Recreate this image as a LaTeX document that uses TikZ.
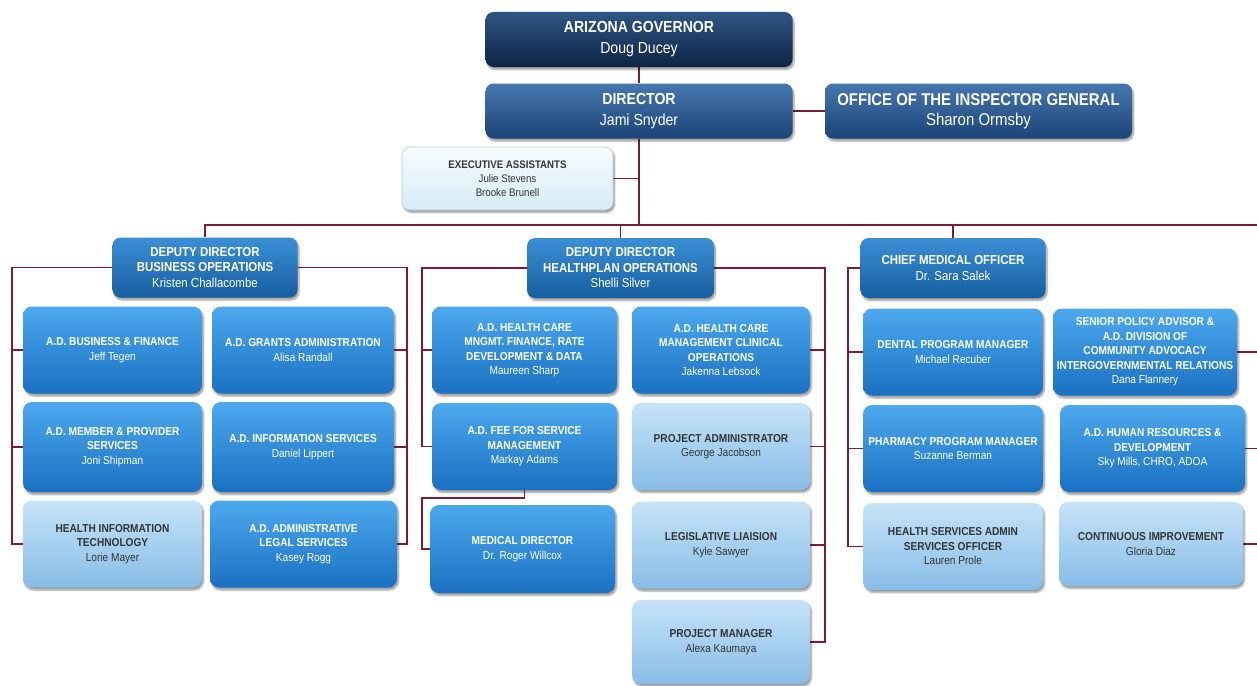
\documentclass[tikz,border=0pt]{standalone}
\usepackage{fontspec}
\newfontfamily\orgfont[FakeStretch=0.88]{Liberation Sans}
\usetikzlibrary{shadows.blur,backgrounds}
\definecolor{linkred}{HTML}{7B1C34}
\definecolor{govtop}{HTML}{2E5585}
\definecolor{govbot}{HTML}{0E2444}
\definecolor{dirtop}{HTML}{4676AF}
\definecolor{dirbot}{HTML}{1C4477}
\definecolor{deptop}{HTML}{3C8FD6}
\definecolor{depbot}{HTML}{165E9F}
\definecolor{adtop}{HTML}{4DA9EE}
\definecolor{adbot}{HTML}{1A70C2}
\definecolor{lttop}{HTML}{C6E3F8}
\definecolor{ltbot}{HTML}{88BDE7}
\definecolor{extop}{HTML}{F7FCFE}
\definecolor{exbot}{HTML}{D6EBF6}
\definecolor{darktext}{HTML}{343434}
\tikzset{
	box/.style={
			rounded corners=8pt, align=center, inner sep=0pt,
			blur shadow={shadow xshift=1.5pt, shadow yshift=-2.5pt,
					shadow opacity=40, shadow blur steps=6}
		},
	topbox/.style={box, text=white, minimum width=307pt, minimum height=55pt,
			font={\orgfont\fontsize{16}{21}\selectfont}},
	govbox/.style={topbox, top color=govtop, bottom color=govbot},
	dirbox/.style={topbox, top color=dirtop, bottom color=dirbot},
	execbox/.style={box, top color=extop, bottom color=exbot, draw=exbot!70!gray,
			line width=0.6pt, text=darktext, minimum width=211pt, minimum height=63pt,
			font={\orgfont\fontsize{11}{14}\selectfont}},
	depbox/.style={box, top color=deptop, bottom color=depbot, text=white,
			minimum width=185pt, minimum height=60pt,
			font={\orgfont\fontsize{13}{15.5}\selectfont}},
	adbox/.style={box, rounded corners=9pt, top color=adtop, bottom color=adbot,
			text=white, minimum width=182pt, minimum height=87pt,
			font={\orgfont\fontsize{11.5}{14.5}\selectfont}},
	litebox/.style={adbox, top color=lttop, bottom color=ltbot, text=darktext},
	link/.style={draw=linkred, line width=1.8pt}
}

\begin{document}
\begin{tikzpicture}[x=1pt,y=-1pt]
	\useasboundingbox (0,0) rectangle (1257,685);

	% Top
	\node[govbox] (gov) at (639,39.5) {\textbf{ARIZONA GOVERNOR}\\Doug Ducey};
	\node[dirbox] (dir) at (639,111) {\textbf{DIRECTOR}\\Jami Snyder};
	\node[dirbox, font={\orgfont\fontsize{17}{20}\selectfont}] (oig) at (978.5,111)
	{\textbf{OFFICE OF THE INSPECTOR GENERAL}\\Sharon Ormsby};
	\node[execbox] (exec) at (507.5,178.5)
	{\textbf{EXECUTIVE ASSISTANTS}\\Julie Stevens\\Brooke Brunell};

	% Deputies
	\node[depbox] (depBO) at (205,267.5)
	{\textbf{DEPUTY DIRECTOR}\\\textbf{BUSINESS OPERATIONS}\\Kristen Challacombe};
	\node[depbox, minimum width=187pt] (depHP) at (620.5,268)
	{\textbf{DEPUTY DIRECTOR}\\\textbf{HEALTHPLAN OPERATIONS}\\Shelli Silver};
	\node[depbox] (cmo) at (953,268)
	{\textbf{CHIEF MEDICAL OFFICER}\\Dr. Sara Salek};

	% Business operations
	\node[adbox, minimum width=179pt] (adbf) at (112.5,350)
	{\textbf{A.D. BUSINESS \& FINANCE}\\Jeff Tegen};
	\node[adbox, minimum width=179pt, minimum height=90pt] (admp) at (112.5,447)
	{\textbf{A.D. MEMBER \& PROVIDER}\\\textbf{SERVICES}\\Joni Shipman};
	\node[litebox, minimum width=179pt] (hit) at (112.5,544)
	{\textbf{HEALTH INFORMATION}\\\textbf{TECHNOLOGY}\\Lorie Mayer};
	\node[adbox] (adga) at (303,350)
	{\textbf{A.D. GRANTS ADMINISTRATION}\\Alisa Randall};
	\node[adbox, minimum height=90pt] (adis) at (303,447)
	{\textbf{A.D. INFORMATION SERVICES}\\Daniel Lippert};
	\node[adbox, minimum width=187pt] (adls) at (303.5,544)
	{\textbf{A.D. ADMINISTRATIVE}\\\textbf{LEGAL SERVICES}\\Kasey Rogg};

	% Healthplan operations
	\node[adbox, minimum width=185pt] (adhcf) at (524.5,350)
	{\textbf{A.D. HEALTH CARE}\\\textbf{MNGMT. FINANCE, RATE}\\\textbf{DEVELOPMENT \& DATA}\\Maureen Sharp};
	\node[adbox, minimum width=185pt] (adffs) at (524.5,446.5)
	{\textbf{A.D. FEE FOR SERVICE}\\\textbf{MANAGEMENT}\\Markay Adams};
	\node[adbox, minimum width=185pt, minimum height=88pt] (med) at (522.5,549)
	{\textbf{MEDICAL DIRECTOR}\\Dr. Roger Willcox};
	\node[adbox, minimum width=178pt] (adhcc) at (721,350)
	{\textbf{A.D. HEALTH CARE}\\\textbf{MANAGEMENT CLINICAL}\\\textbf{OPERATIONS}\\Jakenna Lebsock};
	\node[litebox, minimum width=178pt] (padm) at (721,446.5)
	{\textbf{PROJECT ADMINISTRATOR}\\George Jacobson};
	\node[litebox, minimum width=178pt] (legis) at (721,545)
	{\textbf{LEGISLATIVE LIAISION}\\Kyle Sawyer};
	\node[litebox, minimum width=178pt, minimum height=84pt] (pm) at (721,642)
	{\textbf{PROJECT MANAGER}\\Alexa Kaumaya};

	% Chief medical officer
	\node[adbox, minimum width=180pt] (dental) at (953,352)
	{\textbf{DENTAL PROGRAM MANAGER}\\Michael Recuber};
	\node[adbox, minimum width=180pt] (pharm) at (953,448.5)
	{\textbf{PHARMACY PROGRAM MANAGER}\\Suzanne Berman};
	\node[litebox, minimum width=180pt] (hsa) at (953,546.5)
	{\textbf{HEALTH SERVICES ADMIN}\\\textbf{SERVICES OFFICER}\\Lauren Prole};
	\node[adbox, minimum width=184pt] (spa) at (1145,352)
	{\textbf{SENIOR POLICY ADVISOR \&}\\\textbf{A.D. DIVISION OF}\\\textbf{COMMUNITY ADVOCACY}\\\textbf{INTERGOVERNMENTAL RELATIONS}\\Dana Flannery};
	\node[adbox, minimum width=185pt] (adhr) at (1152.5,448.5)
	{\textbf{A.D. HUMAN RESOURCES \&}\\\textbf{DEVELOPMENT}\\Sky Mills, CHRO, ADOA};
	\node[litebox, minimum width=184pt, minimum height=84pt] (ci) at (1151,544)
	{\textbf{CONTINUOUS IMPROVEMENT}\\Gloria Diaz};

	% Connectors
	\coordinate (busR) at (1262,225);
	\coordinate (boL) at (12,0);
	\coordinate (boR) at (407,0);
	\coordinate (hpL) at (422,0);
	\coordinate (hpR) at (825,0);
	\coordinate (cmL) at (848,0);
	\coordinate (medj) at (422,498);

	\begin{pgfonlayer}{background}
		\draw[link] (gov) -- (dir);
		\draw[link] (dir) -- (oig);
		\draw[link] (dir.south) -- (dir.south |- busR);
		\draw[link] (exec.east) -- (exec.east -| dir.south);
		\draw[link] (depBO.north) |- (busR);
		\draw[link] (depHP.north) -- (depHP.north |- busR);
		\draw[link] (cmo.north) -- (cmo.north |- busR);

		\draw[link] (depBO.west) -- (depBO.west -| boL) |- (hit.west);
		\foreach \n in {adbf,admp}
		\draw[link] (\n.west) -- (\n.west -| boL);
		\draw[link] (depBO.east) -- (depBO.east -| boR) |- (adls.east);
		\foreach \n in {adga,adis}
		\draw[link] (\n.east) -- (\n.east -| boR);

		\draw[link] (depHP.west) -- (depHP.west -| hpL) |- (adffs.west);
		\draw[link] (adhcf.west) -- (adhcf.west -| hpL);
		\draw[link] (adffs.south) |- (medj) |- (med.west);
		\draw[link] (depHP.east) -- (depHP.east -| hpR) |- (pm.east);
		\foreach \n in {adhcc,padm,legis}
		\draw[link] (\n.east) -- (\n.east -| hpR);

		\draw[link] (cmo.west) -- (cmo.west -| cmL) |- (hsa.west);
		\foreach \n in {dental,pharm}
		\draw[link] (\n.west) -- (\n.west -| cmL);
		\draw[link] (busR) |- (ci.east);
		\foreach \n in {spa,adhr}
		\draw[link] (\n.east) -- (\n.east -| busR);
	\end{pgfonlayer}
\end{tikzpicture}
\end{document}
